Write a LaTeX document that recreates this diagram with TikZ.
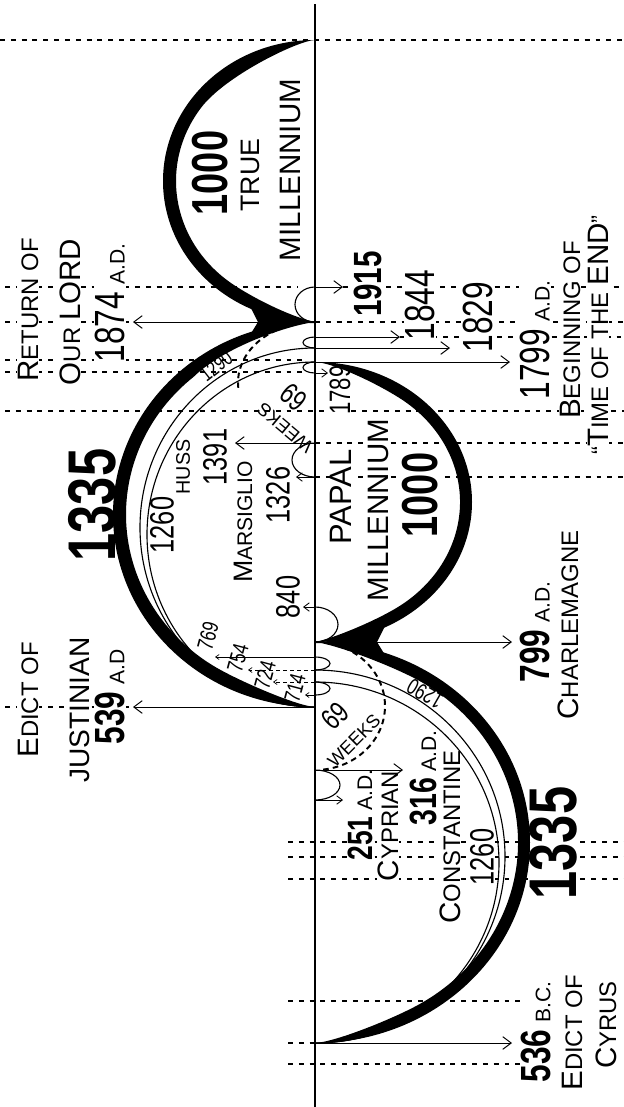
\documentclass[tikz,border=0pt]{standalone}
\usepackage{fontspec}
\setmainfont{Liberation Sans}
\newfontfamily\numfont[FakeStretch=0.75]{Liberation Sans}
\usetikzlibrary{arrows.meta}
\newcommand{\Cap}[1]{{\fontsize{21}{21}\selectfont #1}}
\newcommand{\sm}[1]{{\normalfont\fontsize{15}{15}\selectfont #1}}

\begin{document}
\begin{tikzpicture}[x=0.025cm, y=-0.025cm,
    guide/.style={line width=0.75pt, dash pattern=on 3.5pt off 4.2pt},
    arr/.style={line width=0.7pt, -{Straight Barb[length=6pt, width=9pt]}},
    marr/.style={line width=0.6pt, -{Straight Barb[length=4pt, width=6pt]}},
    sarr/.style={line width=0.5pt, -{Straight Barb[length=2.5pt, width=3.5pt]}},
    perline/.style={line width=0.8pt},
    wk/.style={line width=1.4pt, dash pattern=on 4pt off 3pt},
    lbl/.style={rotate=90, inner sep=0.5pt, font=\fontsize{17}{17}\selectfont},
    num/.style={rotate=90, inner sep=0.5pt, font=\numfont\fontsize{30}{30}\selectfont},
    bnum/.style={rotate=90, inner sep=0.5pt, font=\numfont\bfseries\fontsize{30}{30}\selectfont},
    mnum/.style={rotate=90, inner sep=0.5pt, font=\numfont\fontsize{24}{24}\selectfont},
    snum/.style={rotate=75, inner sep=0.3pt, font=\numfont\fontsize{16}{16}\selectfont},
    tnum/.style={inner sep=0.3pt, font=\numfont\fontsize{21}{21}\selectfont},
    tlbl/.style={inner sep=0.3pt, font=\fontsize{13}{13}\selectfont},
    wh/.style={fill=white}
  ]
  \useasboundingbox (0,0) rectangle (624,1107);

  \foreach \n/\yy in {top/40, 1915/287, 1874/322, 1844/337, 1829/348, 1799/362,
      1789/373, 1391/443, 1326/477, 840/607, 799/642, 769/657, 754/670, 724/682,
      714/695, 539/707, 316/770, 251/800, 536/1043}
    \coordinate (e\n) at (315,\yy);
  \foreach \n/\xx/\yy in {1915/343/287, 1874/133/322, 1844/400/337, 1829/450/348,
      1799/510/362, 1789/328/373, 1391/235/443, 1326/296/477, 840/303/607,
      799/512/642, 539/133/707, 316/403/770, 251/343/800, 536/512/1043,
      769/215/657, 754/248/670, 724/273/682, 714/305/695}
    \coordinate (t\n) at (\xx,\yy);
  \coordinate (atop) at (315,4);
  \coordinate (abot) at (315,1107);

  \foreach \yy/\xa/\xb in {40/0/624, 287/5/298, 287/343/624, 322/5/133, 322/315/624,
      337/400/624, 360/5/303, 372/5/303, 411/5/624, 443/315/624, 477/315/624,
      707/5/133, 842/288/624, 857/288/624, 879/288/624, 1001/288/520,
      1043/288/315, 1064/288/520}
    \draw[guide] (\xa,\yy) -- (\xb,\yy);

  \node[lbl, wh] (ret) at (28,310) {\Cap{R}ETURN OF};
  \node[lbl, wh] (our) at (70,312) {\Cap{O}UR \Cap{LORD}};
  \node[num, wh] (l1874) at (110,303) {1874\,\sm{A.D.}};
  \node[bnum, wh, font=\numfont\bfseries\fontsize{28}{28}\selectfont] (l1915) at (368,284) {1915};
  \node[num, wh] (l1844) at (420,305) {1844};
  \node[num, wh] (l1829) at (478,317) {1829};
  \node[num, wh] (l1799) at (535,340) {1799\,\sm{A.D.}};
  \node[lbl, wh] (begin) at (570,330) {\Cap{B}EGINNING OF};
  \node[lbl, wh] (timeend) at (598,335) {“\Cap{T}IME OF THE \Cap{END}”};
  \node[mnum, wh, font=\numfont\fontsize{21}{21}\selectfont] (l1789) at (340,390) {1789};
  \node[lbl, wh, font=\fontsize{22}{22}\selectfont] (papal) at (341,497) {PAPAL};
  \node[lbl, wh, font=\fontsize{21}{21}\selectfont] (pmill) at (378,510) {MILLENNIUM};
  \node[bnum, wh, font=\numfont\bfseries\fontsize{36}{36}\selectfont] (p1000) at (420,495) {1000};
  \node[lbl, wh] (edictj) at (28,700) {\Cap{E}DICT OF};
  \node[lbl, wh, font=\fontsize{20}{20}\selectfont] (justin) at (80,710) {JUSTINIAN};
  \node[bnum, wh] (l539) at (110,697) {539\,\sm{A.D}};
  \node[bnum, wh, font=\numfont\bfseries\fontsize{25}{25}\selectfont] (l251) at (360,815) {251\,\sm{A.D.}};
  \node[lbl, wh] (cyprian) at (388,826) {\Cap{C}YPRIAN};
  \node[bnum, wh, font=\numfont\bfseries\fontsize{27}{27}\selectfont] (l316) at (423,778) {316\,\sm{A.D.}};
  \node[lbl, wh] (constan) at (450,837) {\Cap{C}ONSTANTINE};
  \node[mnum, wh] (b1260) at (482,857) {1260};
  \node[bnum, wh, font=\numfont\bfseries\fontsize{48}{48}\selectfont] (b1335) at (553,843) {1335};
  \node[bnum, wh] (l536) at (536,1032) {536\,\sm{B.C.}};
  \node[lbl, wh] (edictc) at (572,1033) {\Cap{E}DICT OF};
  \node[lbl, wh] (cyrus) at (606,1025) {\Cap{C}YRUS};

  \fill (etop) arc[start angle=270, end angle=90, x radius=152, y radius=141]
    .. controls (295,318) and (260.5,302.1) .. (235.3,285.9)
    arc[start angle=125, end angle=215, x radius=139, y radius=128]
    .. controls (225.3,75.8) and (298,40.5) .. (etop) -- cycle;
  \fill (e1874) arc[start angle=270, end angle=90, x radius=202, y radius=192.5]
    .. controls (298,706) and (246.8,684.3) .. (220.5,669.9)
    arc[start angle=120, end angle=230, x radius=189, y radius=179.5]
    .. controls (225,346) and (290,325) .. (e1874) -- cycle;
  \fill (e1799) arc[start angle=-90, end angle=90, x radius=157, y radius=140]
    .. controls (335,638) and (376.9,620.1) .. (398.2,606.9)
    arc[start angle=55, end angle=-55, x radius=145, y radius=128]
    .. controls (372.7,381.3) and (332,362.5) .. (e1799) -- cycle;
  \fill (e799) .. controls (338,645) and (391.8,666.1) .. (416.5,679.3)
    arc[start angle=-60, end angle=60, x radius=203, y radius=188.5]
    .. controls (390.1,1019.9) and (335,1042) .. (e536)
    arc[start angle=90, end angle=-90, x radius=215, y radius=200.5] -- cycle;
  \fill (e1874) .. controls (290,320.5) and (268,315) .. (250,306) -- (258,322)
    -- (250,335) .. controls (268,328.5) and (290,323.5) .. cycle;
  \fill (e799) .. controls (340,641) and (365,636) .. (385,626) -- (377,642)
    -- (385,655) .. controls (365,647.5) and (340,643) .. cycle;

  \draw[perline] (e1829) arc[start angle=270, end angle=90, x radius=175, y radius=179.5];
  \draw[perline] (e1799) arc[start angle=270, end angle=90, x radius=168, y radius=172.5];
  \draw[perline] (e754) arc[start angle=-90, end angle=90, x radius=190, y radius=186.5];
  \draw[perline] (e724) arc[start angle=-90, end angle=90, x radius=184, y radius=180.5];
  \draw[wk] (e1874) arc[start angle=270, end angle=175, x radius=77, y radius=60.5];
  \draw[wk] (e799) arc[start angle=-90, end angle=85, x radius=70, y radius=64];

  \draw[perline] (e1915) arc[start angle=270, end angle=90, x radius=20, y radius=17.5];
  \draw[perline] (e1844) arc[start angle=270, end angle=90, x radius=12, y radius=5.5];
  \draw[perline] (e1799) arc[start angle=270, end angle=90, x radius=12, y radius=5.5];
  \draw[perline] (e1391) arc[start angle=270, end angle=90, x radius=23, y radius=17];
  \draw[perline] (e840) arc[start angle=-90, end angle=90, x radius=23, y radius=17.5];
  \draw[perline] (e769) arc[start angle=-90, end angle=90, x radius=15, y radius=6.5];
  \draw[perline] (e724) arc[start angle=-90, end angle=90, x radius=15, y radius=6.5];
  \draw[perline] (e316) arc[start angle=-90, end angle=90, x radius=25, y radius=15];

  \draw[line width=1.6pt] (atop) -- (abot);

  \foreach \n in {1915,1874,1844,1829,1799,1391,799,539,316,536}
    \draw[arr] (e\n) -- (t\n);
  \foreach \n in {1789,1326,840,251}
    \draw[marr] (e\n) -- (t\n);
  \draw[sarr] (e769) -- (t769);
  \draw[sarr, densely dashed] (e754) -- (t754);
  \draw[sarr, densely dashed] (e724) -- (t724);
  \draw[sarr] (e714) -- (t714);

  \node[bnum, font=\numfont\bfseries\fontsize{36}{36}\selectfont] (t1000) at (210,173) {1000};
  \node[lbl, font=\fontsize{19}{19}\selectfont] (true) at (250,175) {TRUE};
  \node[lbl, font=\fontsize{21}{21}\selectfont] (tmill) at (290,170) {MILLENNIUM};
  \node[bnum, font=\numfont\bfseries\fontsize{48}{48}\selectfont] (t1335) at (92,505) {1335};
  \node[mnum] (t1260) at (162,525) {1260};
  \node[lbl, font=\fontsize{14}{14}\selectfont] (huss) at (183,467) {HUSS};
  \node[mnum] (l1391) at (215,457) {1391};
  \node[lbl, font=\fontsize{15}{15}\selectfont] (marsig) at (243,522) {{\fontsize{19}{19}\selectfont M}ARSIGLIO};
  \node[mnum] (l1326) at (278,495) {1326};
  \node[mnum] (l840) at (288,597) {840};
  \node[snum] (l769) at (208,636) {769};
  \node[snum] (l754) at (238,658) {754};
  \node[snum] (l724) at (265,675) {724};
  \node[snum] (l714) at (295,688) {714};
  \node[bnum] (l799) at (535,632) {799\,\sm{A.D.}};
  \node[lbl] (charle) at (568,625) {\Cap{C}HARLEMAGNE};
  \node[tnum, rotate=38, font=\numfont\fontsize{15}{15}\selectfont] (w1290a) at (216,366) {1290};
  \node[tnum, rotate=150, font=\numfont\fontsize{16}{16}\selectfont] (w1290b) at (425,694) {1290};
  \node[tnum, rotate=140] (w69a) at (294,397) {69};
  \node[tlbl, rotate=140] (wka) at (285,428) {WEEKS};
  \node[tnum, rotate=45] (w69b) at (335,716) {69};
  \node[tlbl, rotate=45] (wkb) at (354,741) {WEEKS};
\end{tikzpicture}
\end{document}
